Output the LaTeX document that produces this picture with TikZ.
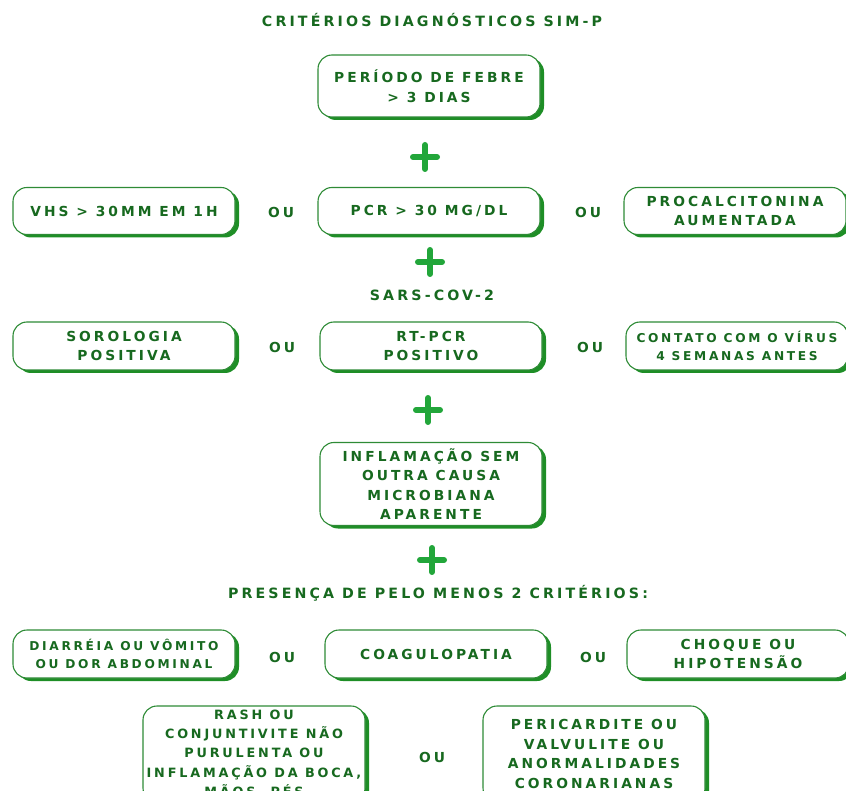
\documentclass[tikz,border=0pt]{standalone}
\usepackage{fontspec}
\setmainfont{DejaVu Sans}[LetterSpace=22]
\usetikzlibrary{shadows}

\definecolor{txtgreen}{HTML}{17691F}
\definecolor{linegreen}{HTML}{2E8B36}
\definecolor{shadegreen}{HTML}{1E8E26}
\definecolor{plusgreen}{HTML}{22A63A}

\tikzset{
  crit/.style={draw=linegreen, line width=1.1pt, fill=white, rounded corners=14pt,
    minimum width=222pt, minimum height=47pt, align=center, inner sep=1pt,
    text=txtgreen, font=\fontsize{13.8}{19.5}\selectfont\bfseries,
    drop shadow={shadow xshift=4pt, shadow yshift=-3pt, fill=shadegreen, opacity=1}},
  smalltxt/.style={font=\fontsize{12.2}{18}\selectfont\bfseries},
  headline/.style={text=txtgreen, font=\fontsize{14.2}{19.5}\selectfont\bfseries},
  ou/.style={headline, font=\fontsize{13.8}{19.5}\selectfont\bfseries},
  plusbar/.style={plusgreen, line width=6pt, line cap=round}
}

\begin{document}
\begin{tikzpicture}[x=1pt, y=-1pt]
\useasboundingbox (0,0) rectangle (846,791);
\clip (0,0) rectangle (846,791);

\node[headline] (title) at (432,20) {CRITÉRIOS DIAGNÓSTICOS SIM-P};
\node[crit, minimum height=62pt] (febre) at (429,86) {PERÍODO DE FEBRE\\> 3 DIAS};

% inflamacao
\node[crit] (vhs) at (124,211) {VHS > 30MM EM 1H};
\node[ou] (ouA) at (281,212) {OU};
\node[crit] (pcr) at (429,211) {PCR > 30 MG/DL};
\node[ou] (ouB) at (588,212) {OU};
\node[crit] (procal) at (735,211) {PROCALCITONINA\\AUMENTADA};

\node[headline] (sars) at (432,295) {SARS-COV-2};
\node[crit, minimum height=48pt] (sorol) at (124,346) {SOROLOGIA\\POSITIVA};
\node[ou] (ouC) at (282,347) {OU};
\node[crit, minimum height=48pt] (rtpcr) at (431,346) {RT-PCR\\POSITIVO};
\node[ou] (ouD) at (590,347) {OU};
\node[crit, smalltxt, minimum height=48pt] (contato) at (737,346) {CONTATO COM O VÍRUS\\4 SEMANAS ANTES};

\node[crit, minimum height=83pt] (semcausa) at (431,484)
  {INFLAMAÇÃO SEM\\OUTRA CAUSA\\MICROBIANA\\APARENTE};

\node[headline] (presenca) at (438,593) {PRESENÇA DE PELO MENOS 2 CRITÉRIOS:};
\node[crit, smalltxt, minimum height=48pt] (diarreia) at (124,654) {DIARRÉIA OU VÔMITO\\OU DOR ABDOMINAL};
\node[ou] (ouE) at (282,657) {OU};
\node[crit, minimum height=48pt] (coag) at (436,654) {COAGULOPATIA};
\node[ou] (ouF) at (593,657) {OU};
\node[crit, minimum height=48pt] (choque) at (738,654) {CHOQUE OU\\HIPOTENSÃO};

\node[crit, minimum height=96pt, font=\fontsize{12.8}{19.2}\selectfont\bfseries] (rash) at (254,754)
  {RASH OU\\CONJUNTIVITE NÃO\\PURULENTA OU\\INFLAMAÇÃO DA BOCA,\\MÃOS, PÉS};
\node[ou] (ouG) at (432,757) {OU};
\node[crit, minimum height=96pt] (peric) at (594,754)
  {PERICARDITE OU\\VALVULITE OU\\ANORMALIDADES\\CORONARIANAS};

% sinais de mais
\foreach \px/\py in {425/157, 430/262, 428/410, 432/560}
  \draw[plusbar] (\px-12,\py) -- (\px+12,\py) (\px,\py-12) -- (\px,\py+12);
\end{tikzpicture}
\end{document}
